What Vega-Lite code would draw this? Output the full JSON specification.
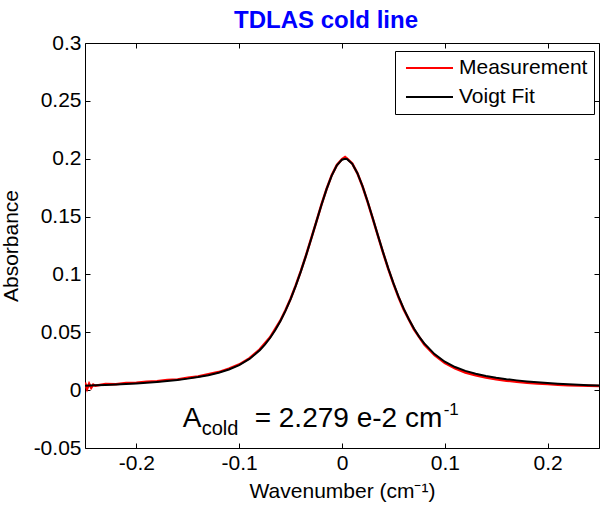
{
  "$schema": "https://vega.github.io/schema/vega-lite/v6.json",
  "width": 514,
  "height": 405,
  "autosize": {"type": "none"},
  "padding": {"left": 85, "top": 43, "right": 1, "bottom": 57},
  "background": "white",
  "title": {"text": "TDLAS cold line", "color": "#0000ff", "fontSize": 24, "fontWeight": "bold", "font": "Liberation Sans", "frame": "group", "anchor": "middle", "baseline": "alphabetic", "offset": 5, "dx": -16, "dy": 25},
  "datasets": {
    "measurement": [
      {"x": -0.25, "y": 0.0065, "series": "Measurement"},
      {"x": -0.248, "y": 0.0010, "series": "Measurement"},
      {"x": -0.246, "y": 0.0055, "series": "Measurement"},
      {"x": -0.244, "y": 0.0020, "series": "Measurement"},
      {"x": -0.242, "y": 0.0048, "series": "Measurement"},
      {"x": -0.24, "y": 0.0038, "series": "Measurement"},
      {"x": -0.23, "y": 0.0052, "series": "Measurement"},
      {"x": -0.22, "y": 0.0050, "series": "Measurement"},
      {"x": -0.21, "y": 0.0062, "series": "Measurement"},
      {"x": -0.20, "y": 0.0063, "series": "Measurement"},
      {"x": -0.19, "y": 0.0072, "series": "Measurement"},
      {"x": -0.18, "y": 0.0076, "series": "Measurement"},
      {"x": -0.17, "y": 0.0087, "series": "Measurement"},
      {"x": -0.16, "y": 0.0093, "series": "Measurement"},
      {"x": -0.15, "y": 0.0108, "series": "Measurement"},
      {"x": -0.14, "y": 0.0118, "series": "Measurement"},
      {"x": -0.13, "y": 0.0138, "series": "Measurement"},
      {"x": -0.12, "y": 0.0156, "series": "Measurement"},
      {"x": -0.11, "y": 0.0186, "series": "Measurement"},
      {"x": -0.10, "y": 0.0222, "series": "Measurement"},
      {"x": -0.09, "y": 0.0276, "series": "Measurement"},
      {"x": -0.08, "y": 0.0352, "series": "Measurement"},
      {"x": -0.07, "y": 0.0456, "series": "Measurement"},
      {"x": -0.06, "y": 0.0600, "series": "Measurement"},
      {"x": -0.055, "y": 0.0690, "series": "Measurement"},
      {"x": -0.05, "y": 0.0790, "series": "Measurement"},
      {"x": -0.045, "y": 0.0905, "series": "Measurement"},
      {"x": -0.04, "y": 0.1030, "series": "Measurement"},
      {"x": -0.035, "y": 0.1165, "series": "Measurement"},
      {"x": -0.03, "y": 0.1310, "series": "Measurement"},
      {"x": -0.025, "y": 0.1455, "series": "Measurement"},
      {"x": -0.02, "y": 0.1603, "series": "Measurement"},
      {"x": -0.015, "y": 0.1738, "series": "Measurement"},
      {"x": -0.01, "y": 0.1858, "series": "Measurement"},
      {"x": -0.005, "y": 0.1945, "series": "Measurement"},
      {"x": 0, "y": 0.1995, "series": "Measurement"},
      {"x": 0.003, "y": 0.2015, "series": "Measurement"},
      {"x": 0.005, "y": 0.2000, "series": "Measurement"},
      {"x": 0.01, "y": 0.1958, "series": "Measurement"},
      {"x": 0.015, "y": 0.1874, "series": "Measurement"},
      {"x": 0.02, "y": 0.1760, "series": "Measurement"},
      {"x": 0.025, "y": 0.1625, "series": "Measurement"},
      {"x": 0.03, "y": 0.1480, "series": "Measurement"},
      {"x": 0.035, "y": 0.1332, "series": "Measurement"},
      {"x": 0.04, "y": 0.1186, "series": "Measurement"},
      {"x": 0.045, "y": 0.1048, "series": "Measurement"},
      {"x": 0.05, "y": 0.0920, "series": "Measurement"},
      {"x": 0.055, "y": 0.0802, "series": "Measurement"},
      {"x": 0.06, "y": 0.0698, "series": "Measurement"},
      {"x": 0.07, "y": 0.0525, "series": "Measurement"},
      {"x": 0.08, "y": 0.0395, "series": "Measurement"},
      {"x": 0.09, "y": 0.0303, "series": "Measurement"},
      {"x": 0.10, "y": 0.0236, "series": "Measurement"},
      {"x": 0.11, "y": 0.0188, "series": "Measurement"},
      {"x": 0.12, "y": 0.0153, "series": "Measurement"},
      {"x": 0.13, "y": 0.0128, "series": "Measurement"},
      {"x": 0.14, "y": 0.0110, "series": "Measurement"},
      {"x": 0.15, "y": 0.0095, "series": "Measurement"},
      {"x": 0.16, "y": 0.0082, "series": "Measurement"},
      {"x": 0.17, "y": 0.0073, "series": "Measurement"},
      {"x": 0.18, "y": 0.0064, "series": "Measurement"},
      {"x": 0.19, "y": 0.0058, "series": "Measurement"},
      {"x": 0.20, "y": 0.0052, "series": "Measurement"},
      {"x": 0.21, "y": 0.0047, "series": "Measurement"},
      {"x": 0.22, "y": 0.0043, "series": "Measurement"},
      {"x": 0.23, "y": 0.0040, "series": "Measurement"},
      {"x": 0.24, "y": 0.0038, "series": "Measurement"},
      {"x": 0.25, "y": 0.0036, "series": "Measurement"}
    ],
    "fit": [
      {"x": -0.25, "y": 0.00382, "series": "Voigt Fit"},
      {"x": -0.24, "y": 0.00413, "series": "Voigt Fit"},
      {"x": -0.23, "y": 0.00448, "series": "Voigt Fit"},
      {"x": -0.22, "y": 0.00487, "series": "Voigt Fit"},
      {"x": -0.21, "y": 0.00532, "series": "Voigt Fit"},
      {"x": -0.20, "y": 0.00583, "series": "Voigt Fit"},
      {"x": -0.19, "y": 0.00642, "series": "Voigt Fit"},
      {"x": -0.18, "y": 0.00710, "series": "Voigt Fit"},
      {"x": -0.17, "y": 0.00790, "series": "Voigt Fit"},
      {"x": -0.16, "y": 0.00884, "series": "Voigt Fit"},
      {"x": -0.15, "y": 0.00995, "series": "Voigt Fit"},
      {"x": -0.14, "y": 0.01129, "series": "Voigt Fit"},
      {"x": -0.13, "y": 0.01295, "series": "Voigt Fit"},
      {"x": -0.12, "y": 0.01506, "series": "Voigt Fit"},
      {"x": -0.11, "y": 0.01784, "series": "Voigt Fit"},
      {"x": -0.10, "y": 0.02163, "series": "Voigt Fit"},
      {"x": -0.09, "y": 0.02694, "series": "Voigt Fit"},
      {"x": -0.08, "y": 0.03447, "series": "Voigt Fit"},
      {"x": -0.075, "y": 0.03931, "series": "Voigt Fit"},
      {"x": -0.07, "y": 0.04503, "series": "Voigt Fit"},
      {"x": -0.065, "y": 0.05174, "series": "Voigt Fit"},
      {"x": -0.06, "y": 0.05953, "series": "Voigt Fit"},
      {"x": -0.055, "y": 0.06848, "series": "Voigt Fit"},
      {"x": -0.05, "y": 0.07865, "series": "Voigt Fit"},
      {"x": -0.045, "y": 0.09004, "series": "Voigt Fit"},
      {"x": -0.04, "y": 0.10260, "series": "Voigt Fit"},
      {"x": -0.035, "y": 0.11620, "series": "Voigt Fit"},
      {"x": -0.03, "y": 0.13060, "series": "Voigt Fit"},
      {"x": -0.025, "y": 0.14540, "series": "Voigt Fit"},
      {"x": -0.02, "y": 0.16003, "series": "Voigt Fit"},
      {"x": -0.015, "y": 0.17370, "series": "Voigt Fit"},
      {"x": -0.01, "y": 0.18546, "series": "Voigt Fit"},
      {"x": -0.005, "y": 0.19426, "series": "Voigt Fit"},
      {"x": 0, "y": 0.19917, "series": "Voigt Fit"},
      {"x": 0.003, "y": 0.2, "series": "Voigt Fit"},
      {"x": 0.005, "y": 0.19963, "series": "Voigt Fit"},
      {"x": 0.01, "y": 0.19557, "series": "Voigt Fit"},
      {"x": 0.015, "y": 0.18748, "series": "Voigt Fit"},
      {"x": 0.02, "y": 0.17623, "series": "Voigt Fit"},
      {"x": 0.025, "y": 0.16286, "series": "Voigt Fit"},
      {"x": 0.03, "y": 0.14836, "series": "Voigt Fit"},
      {"x": 0.035, "y": 0.13354, "series": "Voigt Fit"},
      {"x": 0.04, "y": 0.11903, "series": "Voigt Fit"},
      {"x": 0.045, "y": 0.10525, "series": "Voigt Fit"},
      {"x": 0.05, "y": 0.09246, "series": "Voigt Fit"},
      {"x": 0.055, "y": 0.08083, "series": "Voigt Fit"},
      {"x": 0.06, "y": 0.07041, "series": "Voigt Fit"},
      {"x": 0.065, "y": 0.06122, "series": "Voigt Fit"},
      {"x": 0.07, "y": 0.05320, "series": "Voigt Fit"},
      {"x": 0.075, "y": 0.04629, "series": "Voigt Fit"},
      {"x": 0.08, "y": 0.04038, "series": "Voigt Fit"},
      {"x": 0.09, "y": 0.03114, "series": "Voigt Fit"},
      {"x": 0.10, "y": 0.02459, "series": "Voigt Fit"},
      {"x": 0.11, "y": 0.01996, "series": "Voigt Fit"},
      {"x": 0.12, "y": 0.01663, "series": "Voigt Fit"},
      {"x": 0.13, "y": 0.01415, "series": "Voigt Fit"},
      {"x": 0.14, "y": 0.01224, "series": "Voigt Fit"},
      {"x": 0.15, "y": 0.01072, "series": "Voigt Fit"},
      {"x": 0.16, "y": 0.00948, "series": "Voigt Fit"},
      {"x": 0.17, "y": 0.00844, "series": "Voigt Fit"},
      {"x": 0.18, "y": 0.00757, "series": "Voigt Fit"},
      {"x": 0.19, "y": 0.00682, "series": "Voigt Fit"},
      {"x": 0.20, "y": 0.00618, "series": "Voigt Fit"},
      {"x": 0.21, "y": 0.00562, "series": "Voigt Fit"},
      {"x": 0.22, "y": 0.00513, "series": "Voigt Fit"},
      {"x": 0.23, "y": 0.00471, "series": "Voigt Fit"},
      {"x": 0.24, "y": 0.00433, "series": "Voigt Fit"},
      {"x": 0.25, "y": 0.00400, "series": "Voigt Fit"}
    ],
    "note": [
      {"x": -0.155, "y": -0.032, "a": "A", "sub": "cold", "main": "= 2.279 e-2 cm", "sup": "-1"}
    ]
  },
  "config": {
    "font": "Liberation Sans",
    "view": {"stroke": "black", "strokeWidth": 1},
    "axis": {
      "grid": false, "domain": false, "minExtent": 0,
      "tickColor": "black", "tickSize": -5, "tickWidth": 1,
      "labelColor": "black", "labelFontSize": 21, "labelFont": "Liberation Sans", "labelPadding": 9,
      "titleFont": "Liberation Sans", "titleFontSize": 21, "titleFontWeight": "normal", "titleColor": "black"
    },
    "legend": {
      "orient": "none", "legendX": 310, "legendY": 8,
      "strokeColor": "black", "fillColor": "white", "padding": 6.5, "cornerRadius": 0,
      "symbolType": "M-0.632,0H4.316", "symbolSize": 361, "symbolStrokeWidth": 2,
      "labelFontSize": 21, "labelFont": "Liberation Sans", "labelColor": "black", "labelOffset": 36.5,
      "rowPadding": 7, "title": null
    }
  },
  "resolve": {"axis": {"x": "independent", "y": "independent"}},
  "layer": [
    {
      "data": {"name": "measurement"},
      "mark": {"type": "line", "strokeWidth": 2.5, "clip": true},
      "encoding": {
        "x": {"field": "x", "type": "quantitative",
              "scale": {"domain": [-0.25, 0.25], "nice": false, "zero": false},
              "axis": {"orient": "bottom", "values": [-0.2, -0.1, 0, 0.1, 0.2], "title": "Wavenumber (cm⁻¹)", "titlePadding": 7,
                       "labelExpr": "replace(format(datum.value, '.2~f'), '\u2212', '-')"}},
        "y": {"field": "y", "type": "quantitative",
              "scale": {"domain": [-0.05, 0.3], "nice": false, "zero": false},
              "axis": {"orient": "left", "values": [-0.05, 0, 0.05, 0.1, 0.15, 0.2, 0.25, 0.3], "title": "Absorbance", "titlePadding": 12,
                       "labelExpr": "replace(format(datum.value, '.2~f'), '\u2212', '-')"}},
        "color": {"field": "series", "type": "nominal",
                  "scale": {"domain": ["Measurement", "Voigt Fit"], "range": ["#ff0000", "#000000"]},
                  "legend": {"title": null}}
      }
    },
    {
      "data": {"name": "fit"},
      "mark": {"type": "line", "strokeWidth": 2, "clip": true},
      "encoding": {
        "x": {"field": "x", "type": "quantitative", "axis": null},
        "y": {"field": "y", "type": "quantitative", "axis": null},
        "color": {"field": "series", "type": "nominal"}
      }
    },
    {
      "data": {"name": "note"},
      "mark": {"type": "text", "align": "left", "baseline": "alphabetic", "fontSize": 28, "color": "black"},
      "encoding": {
        "x": {"field": "x", "type": "quantitative",
              "axis": {"orient": "top", "values": [-0.2, -0.1, 0, 0.1, 0.2], "labels": false, "title": null}},
        "y": {"field": "y", "type": "quantitative",
              "axis": {"orient": "right", "values": [-0.05, 0, 0.05, 0.1, 0.15, 0.2, 0.25, 0.3], "labels": false, "title": null}},
        "text": {"field": "a"}
      }
    },
    {
      "data": {"name": "note"},
      "mark": {"type": "text", "align": "left", "baseline": "alphabetic", "fontSize": 20, "color": "black", "dx": 19, "dy": 8},
      "encoding": {
        "x": {"field": "x", "type": "quantitative", "axis": null},
        "y": {"field": "y", "type": "quantitative", "axis": null},
        "text": {"field": "sub"}
      }
    },
    {
      "data": {"name": "note"},
      "mark": {"type": "text", "align": "left", "baseline": "alphabetic", "fontSize": 28, "color": "black", "dx": 72},
      "encoding": {
        "x": {"field": "x", "type": "quantitative", "axis": null},
        "y": {"field": "y", "type": "quantitative", "axis": null},
        "text": {"field": "main"}
      }
    },
    {
      "data": {"name": "note"},
      "mark": {"type": "text", "align": "left", "baseline": "alphabetic", "fontSize": 17, "color": "black", "dx": 261, "dy": -12},
      "encoding": {
        "x": {"field": "x", "type": "quantitative", "axis": null},
        "y": {"field": "y", "type": "quantitative", "axis": null},
        "text": {"field": "sup"}
      }
    }
  ]
}
